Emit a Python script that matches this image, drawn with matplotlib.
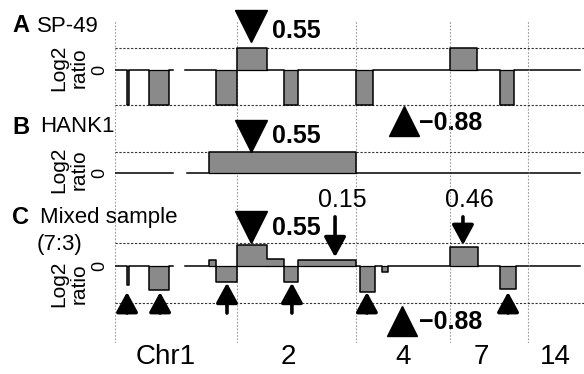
import matplotlib
matplotlib.use("Agg")
import matplotlib.pyplot as plt

plt.rcParams["font.family"] = ["Liberation Sans", "DejaVu Sans"]

# chromosome layout (Mb)
chrom_names = ["Chr1", "2", "4", "7", "14"]
chrom_len = [249, 243, 191, 159, 107]
chrom_label_pos = [104, 353, 588, 747, 898]

# segmented log2 ratio profiles: start (Mb), end (Mb), value
sp49_start = [0, 24, 29, 69, 110, 143, 206, 249, 310, 345, 373, 492, 526, 683, 739, 786, 814, 846]
sp49_end = [24, 29, 69, 110, 118, 206, 249, 310, 345, 373, 492, 526, 683, 739, 786, 814, 842, 949]
sp49_log2 = [0, -0.88, 0, -0.88, 0, 0, -0.88, 0.55, 0, -0.88, 0, -0.88, 0, 0.55, 0, -0.88, 0, 0]

hank1_start = [0, 147, 192, 492, 846]
hank1_end = [118, 192, 492, 842, 949]
hank1_log2 = [0, 0, 0.55, 0, 0]

mix_start = [0, 24, 29, 69, 110, 143, 192, 206, 249, 310, 345, 373, 492, 500, 531, 545, 557, 683, 741, 786, 818, 846]
mix_end = [24, 29, 69, 110, 118, 192, 206, 249, 310, 345, 373, 492, 500, 531, 545, 557, 683, 741, 786, 818, 842, 949]
mix_log2 = [0, -0.45, 0, -0.57, 0, 0, 0.15, -0.38, 0.5, 0.17, -0.38, 0.15, 0, -0.62, 0, -0.15, 0, 0.46, 0, -0.55, 0, 0]

# arrows under the losses of the mixed sample
loss_arrow_x = [24.5, 92, 228.5, 361, 514, 802]
loss_arrow_tip = [-0.62, -0.62, -0.40, -0.40, -0.62, -0.62]

GAIN = 0.55
LOSS = -0.88
GRAY = "#8a8a8a"

W, H = 584, 374
fig = plt.figure(figsize=(W / 100, H / 100), dpi=100)


def add_panel(top, bottom, ylim):
    ax = fig.add_axes([115 / W, 1 - bottom / H, (584 - 115) / W, (bottom - top) / H])
    ax.set_facecolor("none")
    ax.set_xlim(0, 957)
    ax.set_ylim(*ylim)
    for s in ax.spines.values():
        s.set_visible(False)
    ax.set_xticks([])
    ax.set_yticks([0])
    ax.set_yticklabels(["0"], rotation=90, va="center", fontsize=13)
    ax.tick_params(length=0, pad=5)
    bounds = [0]
    for n in chrom_len[:-1]:
        bounds.append(bounds[-1] + n)
    for b in bounds:
        ax.axvline(b, color="#9a9a9a", lw=0.8, ls=(0, (1.5, 1.5)), zorder=1)
    return ax


def draw_profile(ax, starts, ends, vals, levels):
    for lv in levels:
        ax.axhline(lv, color="#333333", lw=0.8, ls=(0, (2, 1.5)), zorder=1)
    xs, ys = [], []
    prev_end = None
    for s, e, v in zip(starts, ends, vals):
        if prev_end is not None and s != prev_end:
            xs.append(float("nan"))
            ys.append(float("nan"))
        xs += [s, e]
        ys += [v, v]
        prev_end = e
        if v != 0:
            ax.fill_between([s, e], 0, v, color=GRAY, lw=0, zorder=2)
            ax.plot([s, e], [0, 0], color="k", lw=0.9, zorder=3)
    ax.plot(xs, ys, color="k", lw=1.1, zorder=3)


def down_tri(ax, x, y, tx, ty):
    ax.plot([x], [y], marker="v", ms=23, color="k", clip_on=False, zorder=5)
    ax.text(tx, ty, "0.55", fontsize=18, fontweight="bold", va="center", ha="left")


def up_tri(ax, x, y, tx, ty):
    ax.plot([x], [y], marker="^", ms=22, color="k", clip_on=False, zorder=5)
    ax.text(tx, ty, "\u22120.88", fontsize=18, fontweight="bold", va="center", ha="left")


def arrow(ax, x, y0, y1):
    ax.annotate("", xy=(x, y1), xytext=(x, y0), annotation_clip=False,
                arrowprops=dict(arrowstyle="-|>,head_length=0.55,head_width=0.3",
                                lw=2.6, color="k", mutation_scale=22,
                                shrinkA=0, shrinkB=0))


# panel A
axA = add_panel(20, 120, (-1.25, 1.25))
draw_profile(axA, sp49_start, sp49_end, sp49_log2, [GAIN, LOSS])
down_tri(axA, 277, 1.1, 320, 0.98)
up_tri(axA, 590, -1.275, 620, -1.33)

# panel B
axB = add_panel(120, 200, (-27 / 38, 53 / 38))
draw_profile(axB, hank1_start, hank1_end, hank1_log2, [GAIN])
down_tri(axB, 277, 0.97, 320, 0.97)

# panel C
axC = add_panel(200, 343, (-77 / 42, 66 / 42))
draw_profile(axC, mix_start, mix_end, mix_log2, [GAIN, LOSS])
down_tri(axC, 277, 0.93, 320, 0.9)
up_tri(axC, 586, -1.31, 620, -1.33)
axC.text(463, 1.57, "0.15", fontsize=18, ha="center", va="center")
axC.text(724, 1.57, "0.46", fontsize=18, ha="center", va="center")
arrow(axC, 449, 1.17, 0.21)
arrow(axC, 710, 1.17, 0.5)
for x, tip in zip(loss_arrow_x, loss_arrow_tip):
    arrow(axC, x, -1.12, tip)

# chromosome names under the last panel
for pos, name in zip(chrom_label_pos, chrom_names):
    axC.text(pos, -14 / 143, name, fontsize=20, ha="center", va="center",
             transform=axC.get_xaxis_transform())

# panel titles and axis labels (figure pixel positions)
def ftext(x, y, s, **kw):
    fig.text(x / W, 1 - y / H, s, **kw)

ftext(12, 26, "A", fontsize=17, fontweight="bold", va="center")
ftext(37, 26, "SP-49", fontsize=16, va="center")
ftext(12, 127, "B", fontsize=17, fontweight="bold", va="center")
ftext(40, 127, "HANK1", fontsize=16, va="center")
ftext(12, 218, "C", fontsize=17, fontweight="bold", va="center")
ftext(40, 218, "Mixed sample", fontsize=16, va="center")
ftext(60, 245, "(7:3)", fontsize=16, va="center", ha="center")
for yc in [68, 170, 284]:
    ftext(69, yc, "Log2\nratio", fontsize=15, rotation=90, ha="center", va="center",
          linespacing=1.15)

fig.savefig("out.png", dpi=100)
